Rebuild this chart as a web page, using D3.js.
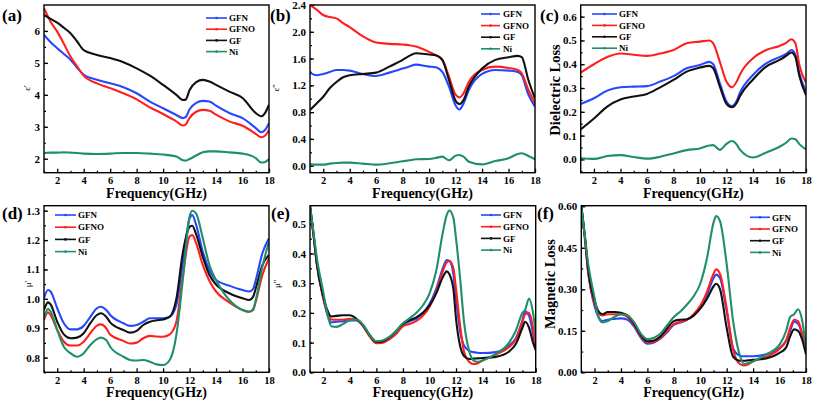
<!DOCTYPE html>
<html><head><meta charset="utf-8">
<script src="https://cdn.jsdelivr.net/npm/d3@7"></script>
<style>
body{margin:0;background:#fff}
svg{display:block}
text{font-family:"Liberation Serif","Times New Roman",serif;font-weight:bold;fill:#000}
</style>
</head><body>
<svg id="chart" width="813" height="401"></svg>
<script>
// ---------- DATA ----------
const seriesNames = ["GFN", "GFNO", "GF", "Ni"];
const seriesColors = ["#2747ff", "#ff1f1f", "#111111", "#1f8f6a"];
const panelLabels = ["(a)", "(b)", "(c)", "(d)", "(e)", "(f)"];
const yTitles = ["\u03b5'", "\u03b5''", "Dielectric Loss", "\u03bc'", "\u03bc''", "Magnetic Loss"];
const xTitle = "Frequency(GHz)";
const xTicks = [2, 4, 6, 8, 10, 12, 14, 16, 18];

// (a) real permittivity
const freqA = [1,1.5,2,2.5,3,3.5,4,5,6,7,8,9,10,11,11.5,11.7,12,12.5,13,13.5,14,15,16,17,17.4,17.7,18];
const epsReal_GFN  = [5.875,5.65,5.46,5.28,5.1,4.85,4.63,4.47,4.36,4.24,4.05,3.79,3.58,3.37,3.27,3.3,3.55,3.75,3.81,3.79,3.66,3.43,3.27,2.96,2.83,2.9,3.11];
const epsReal_GFNO = [6.71,6.29,5.98,5.6,5.2,4.89,4.6,4.36,4.21,4.05,3.86,3.61,3.4,3.17,3.04,3.07,3.28,3.47,3.53,3.5,3.38,3.17,3.03,2.78,2.67,2.72,2.9];
const epsReal_GF   = [6.5,6.38,6.26,6.1,5.93,5.67,5.4,5.25,5.15,5.02,4.83,4.6,4.31,4.0,3.84,3.85,4.15,4.4,4.47,4.42,4.31,4.1,3.9,3.43,3.33,3.43,3.69];
const epsReal_Ni   = [2.18,2.19,2.19,2.2,2.19,2.18,2.16,2.15,2.16,2.18,2.18,2.16,2.13,2.07,1.95,1.94,1.99,2.1,2.2,2.23,2.23,2.2,2.16,2.02,1.88,1.9,1.99];

// (b) imaginary permittivity
const freqB = [1,1.5,2,2.5,3,3.5,4,5,6,7,8,8.5,9,10,10.5,11,11.5,12,12.3,12.6,13,14,15,16,16.7,17,17.5,18];
const epsImag_GFN  = [1.39,1.35,1.37,1.4,1.43,1.43,1.42,1.37,1.34,1.39,1.45,1.48,1.51,1.48,1.47,1.40,1.18,0.9,0.84,0.93,1.13,1.37,1.43,1.42,1.40,1.35,1.06,0.88];
const epsImag_GFNO = [2.4,2.33,2.25,2.22,2.2,2.13,2.07,1.93,1.84,1.82,1.81,1.8,1.78,1.70,1.65,1.58,1.33,1.06,1.02,1.08,1.25,1.43,1.48,1.46,1.43,1.38,1.13,0.93];
const epsImag_GF   = [0.83,0.93,1.03,1.16,1.25,1.32,1.35,1.37,1.39,1.48,1.58,1.64,1.68,1.66,1.65,1.58,1.28,0.97,0.92,0.98,1.18,1.45,1.58,1.62,1.64,1.62,1.28,1.0];
const epsImag_Ni   = [0.02,0.015,0.015,0.03,0.04,0.045,0.045,0.03,0.015,0.035,0.065,0.08,0.095,0.10,0.115,0.135,0.08,0.15,0.16,0.135,0.06,0.02,0.07,0.11,0.175,0.185,0.145,0.095];

// (c) dielectric loss
const freqC = [1,2,3,4,5,6,7,8,9,10,10.7,11,11.5,12,12.4,12.8,13,14,15,16,16.5,16.9,17.2,17.5,18];
const dLoss_GFN  = [0.233,0.257,0.289,0.303,0.306,0.308,0.327,0.35,0.383,0.397,0.41,0.40,0.32,0.243,0.224,0.25,0.278,0.355,0.404,0.43,0.443,0.46,0.44,0.362,0.285];
const dLoss_GFNO = [0.365,0.40,0.43,0.445,0.44,0.435,0.445,0.46,0.488,0.495,0.50,0.488,0.41,0.327,0.303,0.33,0.355,0.425,0.46,0.477,0.49,0.505,0.488,0.397,0.322];
const dLoss_GF   = [0.126,0.172,0.222,0.252,0.264,0.275,0.303,0.334,0.369,0.386,0.393,0.383,0.306,0.233,0.219,0.24,0.264,0.336,0.39,0.418,0.435,0.449,0.43,0.35,0.27];
const dLoss_Ni   = [0.005,0.002,0.014,0.018,0.01,0.003,0.011,0.025,0.039,0.046,0.058,0.06,0.04,0.065,0.077,0.06,0.042,0.008,0.029,0.053,0.07,0.088,0.085,0.064,0.042];

// (d) real permeability
const freqD = [1,1.3,1.5,2,2.5,3,3.5,4,4.5,5,5.3,5.7,6,7,7.5,8,8.5,9,9.5,10,10.5,11,11.5,12,12.2,12.5,13,13.5,14,15,16,16.5,16.8,17,17.5,18];
const muReal_GFN  = [1.002,1.03,1.025,0.968,0.917,0.896,0.896,0.908,0.939,0.968,0.973,0.962,0.945,0.917,0.908,0.911,0.922,0.934,0.934,0.934,0.939,0.979,1.127,1.274,1.285,1.251,1.16,1.098,1.064,1.045,1.03,1.025,1.034,1.064,1.155,1.206];
const muReal_GFNO = [0.928,0.954,0.945,0.894,0.854,0.841,0.841,0.854,0.883,0.909,0.913,0.9,0.879,0.857,0.848,0.851,0.866,0.874,0.872,0.871,0.879,0.922,1.081,1.212,1.217,1.189,1.115,1.061,1.025,0.988,0.962,0.956,0.962,0.99,1.081,1.138];
const muReal_GF   = [0.962,0.988,0.981,0.922,0.879,0.866,0.868,0.883,0.917,0.945,0.951,0.939,0.92,0.894,0.885,0.891,0.911,0.922,0.927,0.93,0.939,1.0,1.16,1.245,1.249,1.219,1.143,1.081,1.049,1.019,1.002,0.996,1.007,1.036,1.115,1.149];
const muReal_Ni   = [0.934,0.966,0.957,0.894,0.837,0.815,0.803,0.815,0.843,0.863,0.868,0.86,0.837,0.803,0.792,0.79,0.792,0.786,0.777,0.775,0.792,0.877,1.07,1.28,1.3,1.29,1.206,1.115,1.064,0.996,0.962,0.956,0.965,0.996,1.109,1.195];

// (e) imaginary permeability
const freqE = [1,1.3,1.5,2,2.3,2.6,3,3.5,4,4.5,5,5.5,6,6.5,7,7.5,8,8.5,9,9.5,10,10.5,11,11.3,11.5,11.8,12,12.3,12.6,13,13.3,13.6,14,15,16,16.5,17,17.2,17.5,17.8,18];
const muImag_GFN  = [0.56,0.45,0.37,0.25,0.195,0.168,0.17,0.172,0.175,0.175,0.158,0.125,0.103,0.105,0.115,0.135,0.16,0.172,0.18,0.2,0.23,0.28,0.35,0.378,0.375,0.33,0.25,0.14,0.09,0.072,0.068,0.066,0.065,0.068,0.09,0.115,0.175,0.205,0.19,0.13,0.085];
const muImag_GFNO = [0.56,0.45,0.37,0.25,0.2,0.178,0.177,0.177,0.18,0.176,0.155,0.12,0.098,0.1,0.112,0.13,0.155,0.163,0.172,0.19,0.22,0.27,0.34,0.37,0.375,0.35,0.28,0.16,0.07,0.035,0.028,0.03,0.04,0.06,0.085,0.11,0.17,0.195,0.2,0.15,0.09];
const muImag_GF   = [0.56,0.45,0.37,0.255,0.21,0.188,0.19,0.192,0.192,0.18,0.158,0.125,0.102,0.105,0.118,0.14,0.163,0.175,0.185,0.2,0.225,0.265,0.32,0.34,0.33,0.28,0.18,0.09,0.055,0.045,0.046,0.047,0.048,0.052,0.07,0.095,0.15,0.17,0.15,0.1,0.075];
const muImag_Ni   = [0.56,0.46,0.39,0.27,0.2,0.155,0.153,0.163,0.175,0.178,0.16,0.125,0.105,0.108,0.12,0.14,0.165,0.182,0.2,0.225,0.265,0.34,0.47,0.53,0.545,0.52,0.45,0.32,0.17,0.07,0.04,0.035,0.04,0.062,0.1,0.14,0.2,0.21,0.248,0.2,0.13];

// (f) magnetic loss
const freqF = [1,1.3,1.5,2,2.3,2.6,3,3.5,4,4.5,5,5.5,6,6.5,7,7.5,8,8.5,9,9.5,10,10.5,11,11.2,11.5,12,12.5,13,13.3,13.6,14,15,16,16.5,16.8,17.1,17.4,17.7,18];
const mLoss_GFN  = [0.6,0.47,0.37,0.24,0.2,0.185,0.19,0.193,0.195,0.19,0.165,0.125,0.103,0.108,0.122,0.145,0.172,0.18,0.19,0.205,0.235,0.28,0.34,0.353,0.34,0.22,0.085,0.06,0.058,0.058,0.058,0.065,0.088,0.115,0.15,0.183,0.175,0.14,0.085];
const mLoss_GFNO = [0.6,0.47,0.37,0.25,0.215,0.205,0.21,0.21,0.21,0.2,0.17,0.13,0.108,0.11,0.125,0.15,0.175,0.182,0.19,0.21,0.24,0.29,0.355,0.372,0.355,0.23,0.08,0.03,0.025,0.028,0.04,0.056,0.085,0.115,0.16,0.19,0.185,0.14,0.085];
const mLoss_GF   = [0.6,0.48,0.38,0.26,0.22,0.21,0.218,0.218,0.215,0.205,0.175,0.135,0.112,0.115,0.13,0.16,0.185,0.19,0.192,0.205,0.23,0.265,0.31,0.32,0.3,0.16,0.055,0.042,0.042,0.043,0.045,0.05,0.07,0.09,0.13,0.155,0.15,0.12,0.065];
const mLoss_Ni   = [0.6,0.48,0.4,0.27,0.2,0.18,0.185,0.2,0.21,0.205,0.18,0.14,0.12,0.125,0.14,0.17,0.2,0.22,0.245,0.275,0.32,0.41,0.54,0.565,0.545,0.39,0.18,0.06,0.03,0.033,0.04,0.065,0.1,0.15,0.2,0.21,0.228,0.19,0.09];

// y tick values per panel
const yTicksA = [2,3,4,5,6];
const yTicksB = [0,0.4,0.8,1.2,1.6,2.0,2.4];
const yTicksC = [0,0.1,0.2,0.3,0.4,0.5,0.6];
const yTicksD = [0.8,0.9,1.0,1.1,1.2,1.3];
const yTicksE = [0,0.1,0.2,0.3,0.4,0.5];
const yTicksF = [0,0.15,0.3,0.45,0.6];

// ---------- LAYOUT ----------
const panels = [
  {freq: freqA, series: [epsReal_GFN, epsReal_GFNO, epsReal_GF, epsReal_Ni], yt: yTicksA, fmt: d3.format("d"), minor: 0.5,
   x0: 44, x1: 269, y0: 5, y1: 172.7, dom: [1.5625, 6.8125], lab: [2, 21], ytl: [30, 88, 9], leg: [206, 227, 229, 18, 11.2]},
  {freq: freqB, series: [epsImag_GFN, epsImag_GFNO, epsImag_GF, epsImag_Ni], yt: yTicksB, fmt: d3.format(".1f"), minor: 0.2,
   x0: 310, x1: 535, y0: 5, y1: 172.7, dom: [-0.105, 2.4], lab: [270, 21], ytl: [279, 88, 9], leg: [481, 500, 503, 14, 11.6]},
  {freq: freqC, series: [dLoss_GFN, dLoss_GFNO, dLoss_GF, dLoss_Ni], yt: yTicksC, fmt: d3.format(".1f"), minor: 0.05,
   x0: 580.7, x1: 806, y0: 5, y1: 172.7, dom: [-0.056, 0.649], lab: [540, 21], ytl: [560, 90, 14.5], leg: [592, 617, 619, 14, 11.4]},
  {freq: freqD, series: [muReal_GFN, muReal_GFNO, muReal_GF, muReal_Ni], yt: yTicksD, fmt: d3.format(".1f"), minor: 0.05,
   x0: 44, x1: 269, y0: 205.7, y1: 372.3, dom: [0.75, 1.317], lab: [2, 219], ytl: [31, 284, 9], leg: [55, 76, 78, 215, 12.2]},
  {freq: freqE, series: [muImag_GFN, muImag_GFNO, muImag_GF, muImag_Ni], yt: yTicksE, fmt: d3.format(".1f"), minor: 0.05,
   x0: 310, x1: 535.7, y0: 205.7, y1: 372.3, dom: [0.0, 0.561], lab: [271, 219], ytl: [280, 284, 9], leg: [481, 501, 503, 215, 11.7]},
  {freq: freqF, series: [mLoss_GFN, mLoss_GFNO, mLoss_GF, mLoss_Ni], yt: yTicksF, fmt: d3.format(".2f"), minor: 0.075,
   x0: 581.3, x1: 806, y0: 205.7, y1: 372.3, dom: [0.0, 0.602], lab: [537, 219], ytl: [555, 284, 14.5], leg: [750, 770, 772, 217.3, 11.7]}
];

const svg = d3.select("#chart");
const defs = svg.append("defs");

panels.forEach((p, i) => {
  const x = d3.scaleLinear().domain([1, 18]).range([p.x0, p.x1]);
  const y = d3.scaleLinear().domain(p.dom).range([p.y1, p.y0]);
  const g = svg.append("g");

  defs.append("clipPath").attr("id", "clip" + i)
    .append("rect").attr("x", p.x0).attr("y", p.y0).attr("width", p.x1 - p.x0).attr("height", p.y1 - p.y0);

  // minor ticks
  const xMinor = d3.range(1, 18.01, 1).filter(v => v % 2 !== 0);
  g.append("g").attr("transform", `translate(0,${p.y1})`)
    .call(d3.axisBottom(x).tickValues(xMinor).tickSize(-2).tickFormat(""))
    .call(s => s.select(".domain").remove())
    .selectAll("line").attr("stroke", "#000").attr("stroke-width", 1.2);
  const yMinor = [];
  for (let v = Math.ceil(p.dom[0] / p.minor) * p.minor; v <= p.dom[1] + 1e-9; v += p.minor) yMinor.push(+v.toFixed(4));
  g.append("g").attr("transform", `translate(${p.x0},0)`)
    .call(d3.axisLeft(y).tickValues(yMinor).tickSize(-2).tickFormat(""))
    .call(s => s.select(".domain").remove())
    .selectAll("line").attr("stroke", "#000").attr("stroke-width", 1.2);

  // major ticks
  const gx = g.append("g").attr("transform", `translate(0,${p.y1})`)
    .call(d3.axisBottom(x).tickValues(xTicks).tickSize(-4).tickPadding(3).tickFormat(d3.format("d")));
  gx.select(".domain").remove();
  gx.selectAll("line").attr("stroke", "#000").attr("stroke-width", 1.3);
  gx.selectAll("text").attr("font-size", 10.5).attr("y", 11.3).attr("dy", null)
    .style("font-family", '"Liberation Serif","Times New Roman",serif').style("font-weight", "bold").attr("fill", "#000");

  const gy = g.append("g").attr("transform", `translate(${p.x0},0)`)
    .call(d3.axisLeft(y).tickValues(p.yt).tickSize(-4).tickPadding(4).tickFormat(p.fmt));
  gy.select(".domain").remove();
  gy.selectAll("line").attr("stroke", "#000").attr("stroke-width", 1.3);
  gy.selectAll("text").attr("font-size", 11)
    .style("font-family", '"Liberation Serif","Times New Roman",serif').style("font-weight", "bold").attr("fill", "#000");

  // lines
  const line = d3.line().curve(d3.curveMonotoneX)
    .x((d, k) => x(p.freq[k])).y(d => y(d));
  const lg = g.append("g").attr("clip-path", `url(#clip${i})`);
  p.series.forEach((vals, s) => {
    lg.append("path").datum(vals).attr("d", line)
      .attr("fill", "none").attr("stroke", seriesColors[s]).attr("stroke-width", 2.1)
      .attr("stroke-linejoin", "round");
  });

  // frame
  g.append("rect").attr("x", p.x0).attr("y", p.y0).attr("width", p.x1 - p.x0).attr("height", p.y1 - p.y0)
    .attr("fill", "none").attr("stroke", "#000").attr("stroke-width", 1.4);

  // legend
  const [lx0, lx1, tx, ly0, dy] = p.leg;
  seriesNames.forEach((nm, s) => {
    const yy = ly0 + s * dy;
    g.append("line").attr("x1", lx0).attr("x2", lx1).attr("y1", yy).attr("y2", yy)
      .attr("stroke", seriesColors[s]).attr("stroke-width", 1.6);
    g.append("circle").attr("cx", (lx0 + lx1) / 2).attr("cy", yy).attr("r", 1.3).attr("fill", seriesColors[s]);
    g.append("text").attr("x", tx).attr("y", yy + 3.2).attr("font-size", 9).text(nm);
  });

  // panel label
  g.append("text").attr("x", p.lab[0]).attr("y", p.lab[1]).attr("font-size", 17).text(panelLabels[i]);

  // axis titles
  g.append("text").attr("x", (p.x0 + p.x1) / 2).attr("y", p.y1 + 25).attr("text-anchor", "middle")
    .attr("font-size", 14).text(xTitle);
  const big = p.ytl[2] > 10;
  g.append("text").attr("transform", `translate(${p.ytl[0]},${p.ytl[1]}) rotate(-90)`)
    .attr("text-anchor", "middle").attr("font-size", p.ytl[2])
    .style("font-weight", big ? "bold" : "normal").text(yTitles[i]);
});
</script>
</body></html>
